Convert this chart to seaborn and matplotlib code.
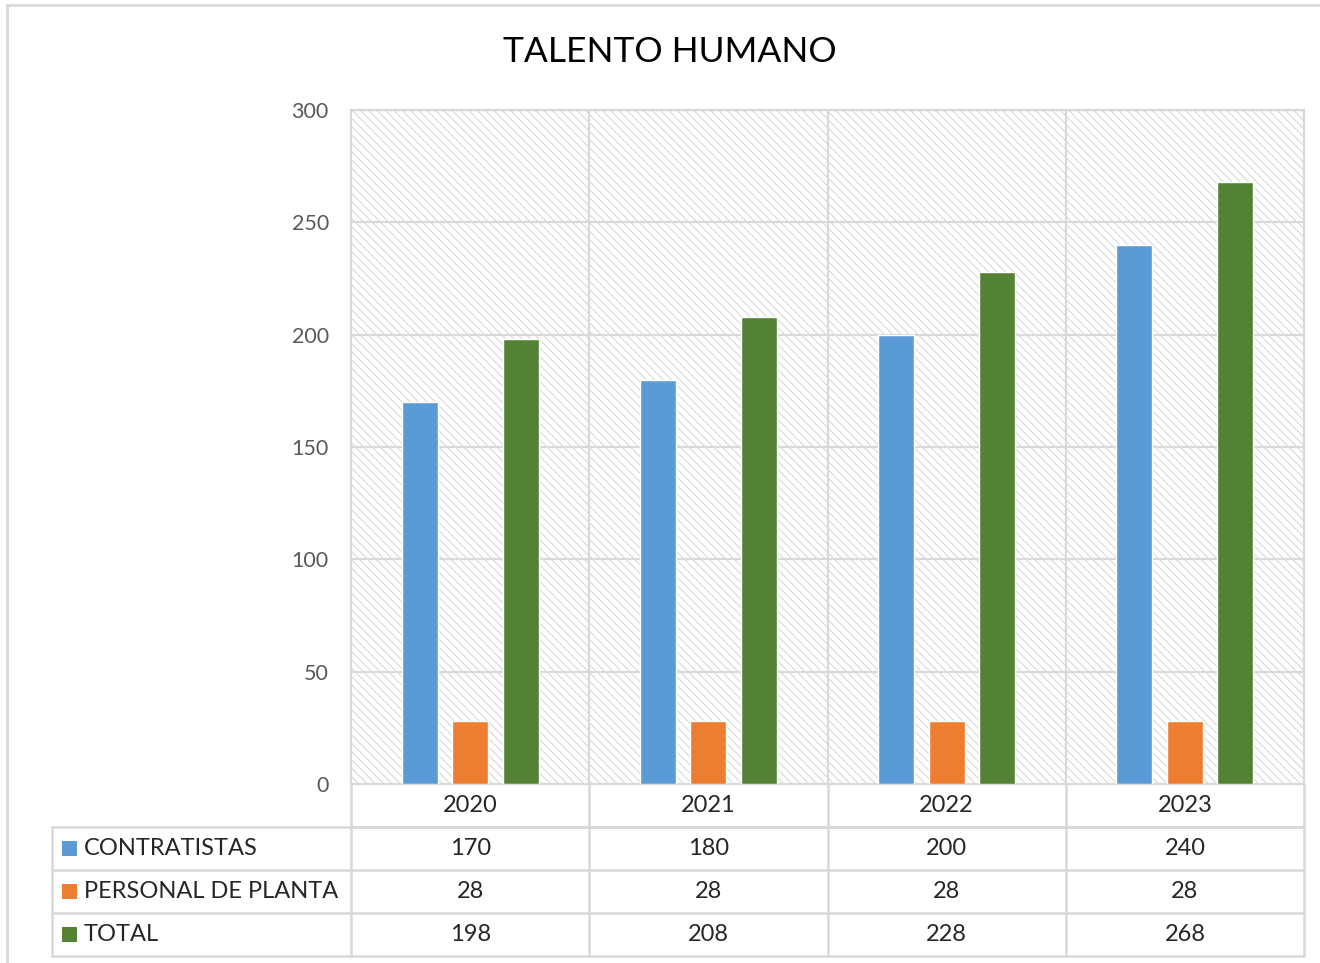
import pandas as pd
import matplotlib.pyplot as plt
import seaborn as sns
from matplotlib.patches import Rectangle

# === Data ===
years = ["2020", "2021", "2022", "2023"]
series = ["CONTRATISTAS", "PERSONAL DE PLANTA", "TOTAL"]
contratistas = [170, 180, 200, 240]
personal_planta = [28, 28, 28, 28]
total = [198, 208, 228, 268]
yticks = [0, 50, 100, 150, 200, 250, 300]
title = "TALENTO HUMANO"

colors = {"CONTRATISTAS": "#5B9BD5", "PERSONAL DE PLANTA": "#ED7D31", "TOTAL": "#548235"}
grid_col = "#d9d9d9"

df = pd.DataFrame({
    "Year": years * 3,
    "Series": [s for s in series for _ in years],
    "Value": contratistas + personal_planta + total,
})

# === Figure ===
sns.set_style("white")
plt.rcParams["font.family"] = ["Lato", "DejaVu Sans"]
plt.rcParams["hatch.linewidth"] = 0.7
plt.rcParams["hatch.color"] = "#d4d4d4"

W, H = 1320, 963
fig = plt.figure(figsize=(W / 100, H / 100), dpi=100)
x0, x1, ytop, ybot = 351, 1304, 110, 784
ax = fig.add_axes([x0 / W, 1 - ybot / H, (x1 - x0) / W, (ybot - ytop) / H])

# hatched plot background
ax.add_patch(Rectangle((0, 0), 1, 1, transform=ax.transAxes, facecolor="white",
                       edgecolor="#d4d4d4", hatch="\\\\\\\\", lw=0, zorder=0))

sns.barplot(data=df, x="Year", y="Value", hue="Series", palette=colors,
            width=0.636, gap=0.29, saturation=1, legend=False, ax=ax, zorder=3)

ax.set_xlim(-0.5, 3.5)
ax.set_ylim(0, 300)
ax.set_yticks(yticks)
ax.set_yticklabels([str(t) for t in yticks], fontsize=15.5, color="#595959")
ax.tick_params(axis="y", length=0, pad=16)
ax.set_xticks([])
ax.set_xlabel("")
ax.set_ylabel("")
for t in yticks[1:]:
    ax.axhline(t, color=grid_col, lw=1.6, zorder=1)
for xv in [0.5, 1.5, 2.5]:
    ax.axvline(xv, color=grid_col, lw=1.6, zorder=1)
for sp in ax.spines.values():
    sp.set_color(grid_col)
    sp.set_linewidth(1.6)

fig.text(670 / W, 1 - 52 / H, title, fontsize=25.5, color="black", ha="center", va="center")

# === Data table below the axes ===
row_h = 43 / (ybot - ytop)
left = (52 - x0) / (x1 - x0)
tr = ax.get_xaxis_transform()
line_kw = dict(color=grid_col, lw=1.8, clip_on=False, zorder=5)
fs = 17

# header row (years)
for i, yr in enumerate(years):
    ax.text(i, -row_h / 2, yr, transform=tr, ha="center", va="center", fontsize=fs)
ax.plot([-0.5, 3.5], [-row_h, -row_h], transform=tr, **line_kw)
ax.plot([-0.5, -0.5], [0, -4 * row_h], transform=tr, **line_kw)
for xv in [0.5, 1.5, 2.5, 3.5]:
    ax.plot([xv, xv], [0, -4 * row_h], transform=tr, **line_kw)

rows = [contratistas, personal_planta, total]
for r, (name, vals) in enumerate(zip(series, rows)):
    yc = -(r + 1.5) * row_h
    ax.add_patch(Rectangle((left + 10 / 953, yc - 7.5 / 674), 15 / 953, 15 / 674,
                           transform=ax.transAxes, facecolor=colors[name],
                           lw=0, clip_on=False))
    ax.text(left + 32 / 953, yc, name, transform=ax.transAxes, ha="left",
            va="center", fontsize=fs)
    for i, v in enumerate(vals):
        ax.text(i, yc, str(v), transform=tr, ha="center", va="center", fontsize=fs)
    ax.plot([left, 1], [-(r + 2) * row_h] * 2, transform=ax.transAxes, **line_kw)
ax.plot([left, 1], [-row_h] * 2, transform=ax.transAxes, **line_kw)
ax.plot([left, left], [-row_h, -4 * row_h], transform=ax.transAxes, **line_kw)

# outer chart frame
fig.patches.append(Rectangle((7 / W, -0.1), 1.2, 1 - 5 / H + 0.1, transform=fig.transFigure,
                             fill=False, edgecolor="#d9d9d9", lw=2))

fig.savefig("out.png", dpi=100)
